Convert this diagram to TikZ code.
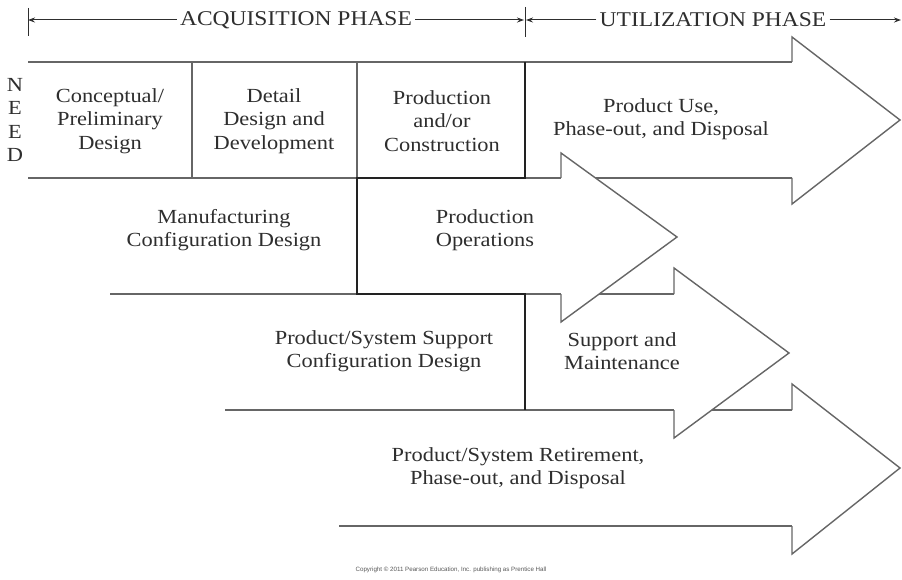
\documentclass[tikz,border=0pt]{standalone}
\usepackage{fontspec}
\setmainfont{Liberation Serif}[FakeStretch=1.12]
\newfontfamily\tinysans{Liberation Sans}
\usetikzlibrary{arrows.meta}
\definecolor{linegray}{HTML}{666666}
\definecolor{thickline}{HTML}{222222}
\definecolor{txtgray}{HTML}{2E2E2E}
\tikzset{
  thinline/.style={draw=linegray, line width=1.4pt},
  stairline/.style={draw=thickline, line width=2.8pt, line join=miter},
  headshape/.style={draw=linegray, fill=white, line width=1.4pt, line join=miter},
  lbl/.style={align=center, text=txtgray, inner sep=0pt, font=\fontsize{20}{23.5}\selectfont},
  phase/.style={text=txtgray, inner sep=0pt, font=\fontsize{21}{24}\selectfont},
  dimline/.style={draw=txtgray, line width=1pt},
  dimtip/.style={-{Stealth[length=7pt,width=5pt]}}
}
\begin{document}
\begin{tikzpicture}[x=1pt,y=-1pt]
\useasboundingbox (0,0) rectangle (902,580);
\fill[white] (0,0) rectangle (902,580);

% --- phase dimension line
\coordinate (tL) at (28,20);
\coordinate (tM) at (525,20);
\coordinate (tR) at (901,20);
\draw[dimline] (28,8) -- (28,36);
\draw[dimline] (525,7) -- (525,37);
\node[phase] (acq) at (296,20) {ACQUISITION PHASE};
\node[phase] (util) at (713,20) {UTILIZATION PHASE};
\draw[dimline,dimtip] (acq.west) ++(-3,0) -- (tL);
\draw[dimline,dimtip] (acq.east) ++(3,0) -- ([xshift=-1pt]tM);
\draw[dimline,dimtip] (util.west) ++(-3,0) -- ([xshift=1pt]tM);
\draw[dimline,dimtip] (util.east) ++(3,0) -- (tR);

% --- shaft lines
\draw[thinline] (28,62) -- (792,62);
\draw[thinline] (28,178) -- (792,178);
\draw[thinline] (110,294) -- (674,294);
\draw[thinline] (225,410) -- (792,410);
\draw[thinline] (339,526) -- (792,526);
% box dividers
\draw[thinline] (192,62) -- (192,178);
\draw[thinline] (357,62) -- (357,178);

% --- arrow heads
\draw[headshape] (792,62) -- (792,37) -- (900,120) -- (792,204) -- (792,178);
\draw[headshape] (561,178) -- (561,153) -- (677,237) -- (561,322) -- (561,294);
\draw[headshape] (674,294) -- (674,268) -- (789,353) -- (674,438) -- (674,410);
\draw[headshape] (792,410) -- (792,384) -- (900,468) -- (792,554) -- (792,526);

% --- staircase
\draw[stairline] (525,62) -- (525,178) -- (357,178) -- (357,294) -- (525,294) -- (525,410);

% --- labels
\node[lbl] (need) at (15,120) {N\\E\\E\\D};
\node[lbl] (concept) at (110,121) {Conceptual/\\Preliminary\\Design};
\node[lbl] (detail) at (274,121) {Detail\\Design and\\Development};
\node[lbl] (prodcon) at (442,121) {Production\\and/or\\Construction};
\node[lbl] (use) at (661,119) {Product Use,\\Phase-out, and Disposal};
\node[lbl] (manuf) at (224,230) {Manufacturing\\Configuration Design};
\node[lbl] (prodop) at (485,230) {Production\\Operations};
\node[lbl] (suppdes) at (384,351) {Product/System Support\\Configuration Design};
\node[lbl] (supmaint) at (622,351) {Support and\\Maintenance};
\node[lbl] (retire) at (518,468) {Product/System Retirement,\\Phase-out, and Disposal};
\node[text=txtgray!80, inner sep=0pt, font=\tinysans\fontsize{6.2}{7}\selectfont] (copy) at (451,570) {Copyright \textcopyright\ 2011 Pearson Education, Inc. publishing as Prentice Hall};
\end{tikzpicture}
\end{document}
